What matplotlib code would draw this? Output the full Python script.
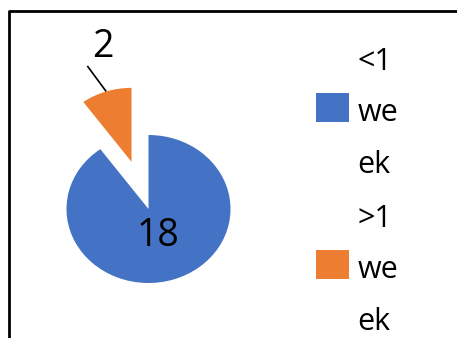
import numpy as np
import matplotlib
matplotlib.use("Agg")
import matplotlib.pyplot as plt
from matplotlib.lines import Line2D
from matplotlib.patches import Rectangle
from matplotlib.legend_handler import HandlerPatch

# ---------- data ----------
categories = ["<1\nwe\nek", ">1\nwe\nek"]
counts = [18, 2]
colors = ["#4472C4", "#ED7D31"]
explode = [0, 0.67]

plt.rcParams['font.family'] = ['Open Sans', 'DejaVu Sans']

W, H = 457, 338
fig = plt.figure(figsize=(W / 100, H / 100), dpi=100)
ax = fig.add_axes([0, 0, 1, 1])

# pie centre / radii in pixels (slightly wider than tall)
cx, cy, rx, ry = 148.5, 209.0, 82.0, 74.0

wedges, _ = ax.pie(counts, colors=colors, explode=explode, startangle=90,
                   counterclock=False, wedgeprops=dict(linewidth=0))
ax.set_aspect('auto')
ax.set_xlim(-cx / rx, (W - cx) / rx)
ax.set_ylim(-(H - cy) / ry, cy / ry)
ax.axis('off')

# ---------- value labels ----------
total = sum(counts)
mids = []
start = 90.0
for v in counts:
    sweep = 360.0 * v / total
    mids.append(np.deg2rad(start - sweep / 2))
    start -= sweep

# big slice: label inside
a = mids[0]
ax.text(0.38 * np.cos(a), 0.38 * np.sin(a), str(counts[0]),
        ha='center', va='center', fontsize=27, color='black')

# small slice: label outside with a leader line
a = mids[1]
ox, oy = explode[1] * np.cos(a), explode[1] * np.sin(a)
ex, ey = ox + np.cos(a), oy + np.sin(a)
ax.plot([ex, ex - 0.23], [ey, ey + 0.345], color='black', lw=1.2,
        solid_capstyle='butt')
ax.text(-0.555, 2.06, str(counts[1]), ha='center', va='baseline',
        fontsize=27, color='black')


# ---------- legend ----------
def square(legend, orig_handle, xdescent, ydescent, width, height, fontsize):
    # sit the swatch a little higher, level with the middle line of text
    return Rectangle((-xdescent, -ydescent + 0.17 * fontsize),
                     width, 0.95 * fontsize)


leg = ax.legend(wedges, categories, loc='upper left',
                bbox_to_anchor=(315.7 / W, 1 - 46.6 / H),
                bbox_transform=fig.transFigure, frameon=False,
                fontsize=22, handlelength=1.08, handleheight=0.95,
                handletextpad=0.29, labelspacing=0.78, borderpad=0,
                borderaxespad=0,
                handler_map={w: HandlerPatch(patch_func=square) for w in wedges})
for t in leg.get_texts():
    t.set_linespacing(1.94)

# ---------- chart border (top and left edges) ----------
x0, y0 = 9.2 / W, 1 - 11.3 / H
fig.add_artist(Line2D([x0, x0, 1.01], [-0.01, y0, y0], color='black',
                      lw=2.0, transform=fig.transFigure))

fig.savefig('out.png', dpi=100, facecolor='white')
